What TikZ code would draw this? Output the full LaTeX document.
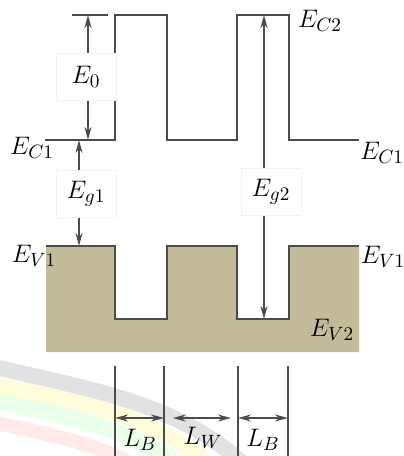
\documentclass[tikz,border=0pt]{standalone}
\usepackage{amsmath,amssymb}
\usepackage{xcolor}
\usepackage{tikz}
\usetikzlibrary{arrows.meta,positioning}
\definecolor{bandfill}{RGB}{196,188,153}
\definecolor{bandline}{RGB}{75,75,75}

\begin{document}
\begin{tikzpicture}[x=0.02cm, y=-0.02cm,
      band/.style={draw=bandline, line width=1.1pt},
      lbl/.style={font=\fontsize{15}{17}\selectfont, inner sep=1pt},
      tag/.style={lbl, fill=white, draw=black!5, minimum width=1.2cm, minimum height=0.95cm},
      dim/.style={draw=bandline, line width=0.9pt},
      arr/.style={dim, {Stealth[length=2.6mm,width=1.4mm]}-{Stealth[length=2.6mm,width=1.4mm]}},
      swoosh/.style={line width=#1, line cap=round, opacity=0.25}]
    \useasboundingbox (0,0) rectangle (404,456);
    % faint swoosh in the background
    \draw[swoosh=9pt, black!45] (0,368) .. controls (90,390) and (180,402) .. (250,470);
    \draw[swoosh=9pt, yellow!60] (0,386) .. controls (80,402) and (160,417) .. (215,470);
    \draw[swoosh=9pt, green!35] (0,402) .. controls (70,416) and (140,432) .. (185,470);
    \draw[swoosh=8pt, red!35] (0,424) .. controls (60,436) and (110,448) .. (140,470);
    % valence band
    \fill[bandfill] (46,246) -- (115,246) -- (115,319) -- (167,319) -- (167,246) -- (237,246)
      -- (237,319) -- (289,319) -- (289,246) -- (359,246) -- (359,352) -- (46,352) -- cycle;
    \draw[band] (46,246) -- (115,246) |- (167,319) |- (237,246) |- (289,319) |- (359,246);
    % conduction band
    \draw[band] (45,140) -- (115,140) |- (167,15) |- (237,140) |- (289,15) |- (359,140);
    \draw[band] (72,15) -- (108,15);
    % named levels
    \coordinate (top0) at (88,15);
    \coordinate (ec0) at (88,140);
    \coordinate (ec1) at (79,140);
    \coordinate (ev1) at (79,246);
    \coordinate (top2) at (264,15);
    \coordinate (ev2) at (264,319);
    % gaps
    \draw[arr] (top0) -- (ec0);
    \draw[arr] (ec1) -- (ev1);
    \draw[arr] (top2) -- (ev2);
    \node[tag] (e0) at (86,77) {$E_0$};
    \node[tag] (eg1) at (86,194) {$E_{g1}$};
    \node[tag] (eg2) at (271,192) {$E_{g2}$};
    % band labels
    \node[lbl] (ecl) at (32,148) {$E_{C1}$};
    \node[lbl] (ec2) at (320,21) {$E_{C2}$};
    \node[lbl] (ecr) at (382,153) {$E_{C1}$};
    \node[lbl] (evl) at (34,256) {$E_{V1}$};
    \node[lbl] (evr) at (383,257) {$E_{V1}$};
    \node[lbl] (ev2l) at (332,330) {$E_{V2}$};
    % widths
    \foreach \n/\x in {a/115, b/164, c/238, d/288} {
      \coordinate (\n t) at (\x,366);
      \coordinate (\n b) at (\x,456);
      \coordinate (\n m) at (\x,418);
      \draw[dim] (\n t) -- (\n b);
    }
    \draw[arr] (am) -- (bm);
    \draw[arr] ([xshift=5]bm) -- ([xshift=-4]cm);
    \draw[arr] (cm) -- (dm);
    \node[lbl] (lb1) at (140,440) {$L_B$};
    \node[lbl] (lw) at (203,438) {$L_W$};
    \node[lbl] (lb2) at (263,440) {$L_B$};
  \end{tikzpicture}
\end{document}
